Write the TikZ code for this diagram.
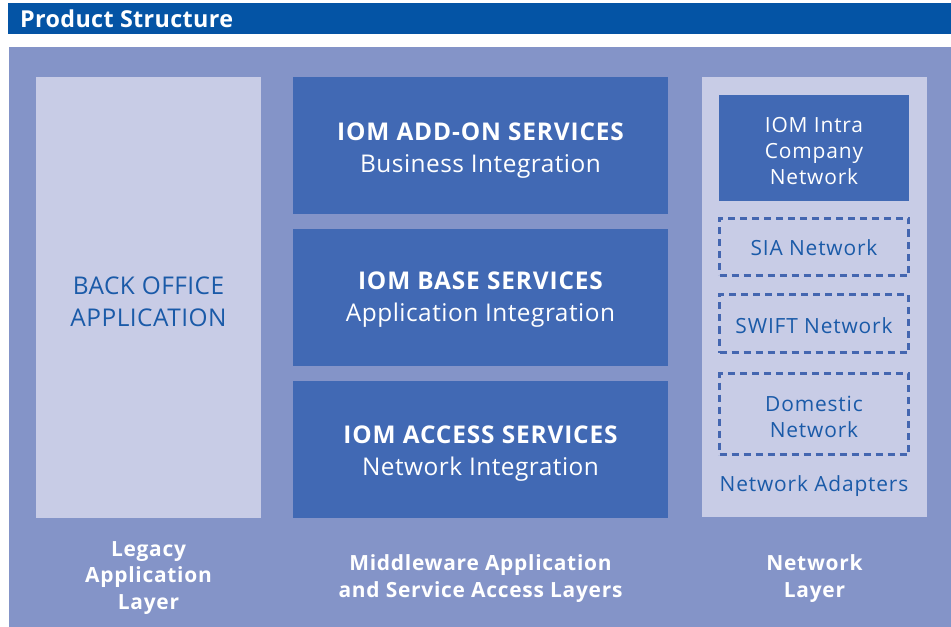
\documentclass[tikz,border=0pt]{standalone}
\usepackage{fontspec}
\setmainfont{Open Sans}
\newfontfamily\regwide[LetterSpace=2]{Open Sans}
\newfontfamily\boldwide[LetterSpace=3.5]{Open Sans}
\newfontfamily\smallwide[LetterSpace=4]{Open Sans}
\newfontfamily\layerwide[LetterSpace=3.5]{Open Sans}
\newfontfamily\titlewide[LetterSpace=1.5]{Open Sans}
\definecolor{hdr}{HTML}{0454A5}
\definecolor{panel}{HTML}{8494C8}
\definecolor{light}{HTML}{C8CCE6}
\definecolor{midb}{HTML}{4169B4}
\definecolor{txtb}{HTML}{1A5AA8}
\definecolor{dashb}{HTML}{4466B0}
\tikzset{
  bigbox/.style={fill=midb,draw=none},
  lightbox/.style={fill=light,draw=none},
  dashbox/.style={draw=dashb,line width=2.6bp,dash pattern=on 7bp off 5bp},
  bigtxt/.style={text=white,align=center,font=\regwide\fontsize{24.5}{32}\selectfont},
  lighttxt/.style={text=txtb,align=center,font=\regwide\fontsize{24.5}{32}\selectfont},
  smalltxt/.style={align=center,font=\smallwide\fontsize{21}{26.5}\selectfont},
  layertxt/.style={text=white,align=center,font=\layerwide\bfseries\fontsize{21}{27}\selectfont},
}
\begin{document}
\begin{tikzpicture}[x=1bp,y=-1bp]
\useasboundingbox (0,0) rectangle (951,627);
\fill[white] (0,0) rectangle (951,627);
% header
\fill[hdr] (8,3) rectangle (951,34);
\node[anchor=west,text=white,font=\titlewide\bfseries\fontsize{23.4}{26}\selectfont,inner sep=0] (title) at (20,19) {Product Structure};
% panel
\fill[panel] (9,47) rectangle (951,627);
% left
\node[lightbox,minimum width=225bp,minimum height=441bp,inner sep=0] (left) at (148.5,297.5) {};
\node[lighttxt] (backoffice) at (148.5,302) {BACK OFFICE\\APPLICATION};
% middle
\node[bigbox,minimum width=375bp,minimum height=137bp,inner sep=0] (addon) at (480.5,145.5) {};
\node[bigtxt] (addontxt) at (480.5,150.5) {{\boldwide\bfseries IOM ADD-ON SERVICES}\\Business Integration};
\node[bigbox,minimum width=375bp,minimum height=137bp,inner sep=0] (base) at (480.5,297.5) {};
\node[bigtxt] (basetxt) at (480.5,300) {{\boldwide\bfseries IOM BASE SERVICES}\\Application Integration};
\node[bigbox,minimum width=375bp,minimum height=137bp,inner sep=0] (access) at (480.5,449.5) {};
\node[bigtxt] (accesstxt) at (480.5,454) {{\boldwide\bfseries IOM ACCESS SERVICES}\\Network Integration};
% right
\node[lightbox,minimum width=225bp,minimum height=440bp,inner sep=0] (right) at (814.5,297) {};
\node[bigbox,minimum width=190bp,minimum height=106bp,inner sep=0] (intra) at (814,148) {};
\node[smalltxt,text=white] (intratxt) at (814,151) {IOM Intra\\Company\\Network};
\node[dashbox,minimum width=189bp,minimum height=57bp,inner sep=0] (sia) at (814,247) {};
\node[smalltxt,text=txtb] (siatxt) at (814,247.5) {SIA Network};
\node[dashbox,minimum width=189bp,minimum height=58bp,inner sep=0] (swift) at (814,323.5) {};
\node[smalltxt,text=txtb] (swifttxt) at (814,325.5) {SWIFT Network};
\node[dashbox,minimum width=189bp,minimum height=81bp,inner sep=0] (dom) at (814,414) {};
\node[smalltxt,text=txtb] (domtxt) at (814,417) {Domestic\\Network};
\node[smalltxt,text=txtb] (adapters) at (814,486) {Network Adapters};
% bottom labels
\node[layertxt] (legacy) at (148.5,578) {Legacy\\Application\\Layer};
\node[layertxt] (middleware) at (480.5,578.5) {Middleware Application\\and Service Access Layers};
\node[layertxt] (netlayer) at (814.5,578.5) {Network\\Layer};
\end{tikzpicture}
\end{document}
